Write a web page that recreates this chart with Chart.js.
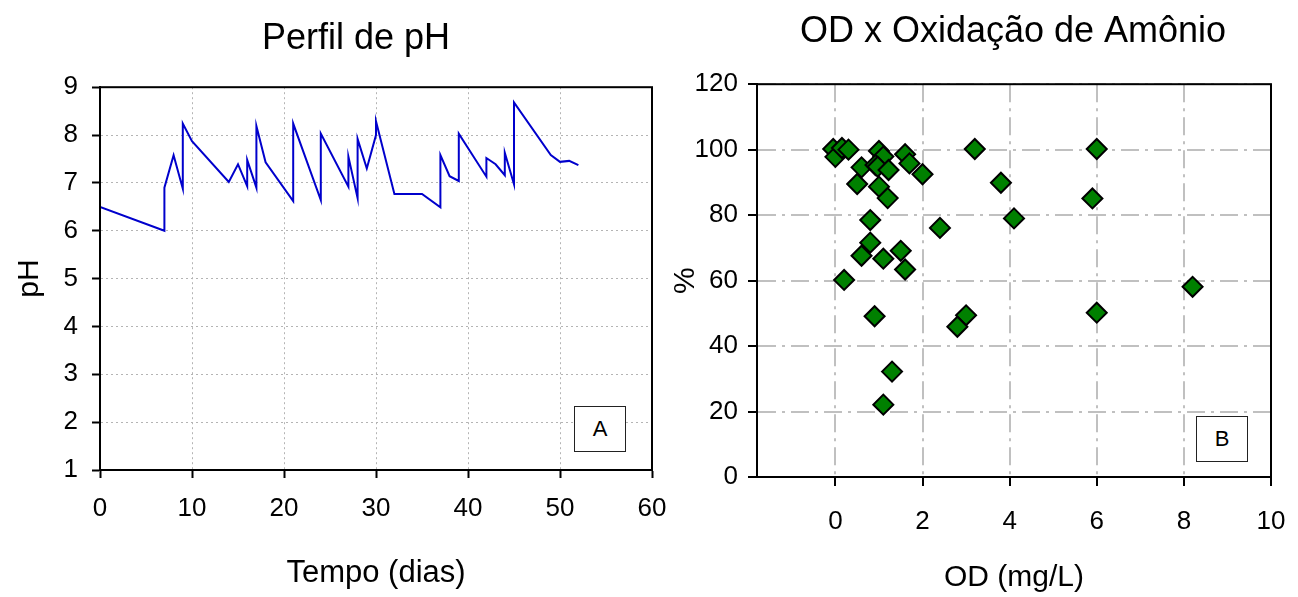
<!DOCTYPE html>
<html>
<head>
<meta charset="utf-8">
<script src="https://cdn.jsdelivr.net/npm/chart.js@4.4.1/dist/chart.umd.min.js"></script>
<style>
  html, body { margin: 0; padding: 0; background: #fff; overflow: hidden; width: 1298px; height: 597px; }
  .wrap { position: absolute; top: 0; height: 597px; }
  .tag { position: absolute; width: 52px; height: 46px; border: 1.5px solid #222; box-sizing: border-box;
         font: 22px 'Liberation Sans', Arial, sans-serif; display: flex; align-items: center; justify-content: center; background: #fff; }
</style>
</head>
<body>
<div class="wrap" style="left:0;width:712px"><canvas id="ph"></canvas></div>
<div class="wrap" style="left:640px;width:746px"><canvas id="od"></canvas></div>
<div class="tag" style="left:574px;top:406px">A</div>
<div class="tag" style="left:1196px;top:416px">B</div>
<script>
Chart.defaults.font.family = "'Liberation Sans', Arial, sans-serif"
Chart.defaults.color = '#000'

// Perfil de pH
const tempo = [0, 7, 7, 8, 9, 9, 10, 14, 15, 16, 16, 17, 17, 18, 21, 21, 24, 24, 27, 27,
  28, 28, 29, 30, 30, 32, 35, 37, 37, 38, 39, 39, 42, 42, 43, 44, 44, 45, 45, 49, 50, 51, 52]
const ph = [6.5, 6.0, 6.9, 7.58, 6.88, 8.24, 7.87, 7.02, 7.39, 6.93, 7.48, 6.9, 8.19, 7.43, 6.62, 8.24, 6.64, 8.03, 6.92, 7.55,
  6.68, 7.92, 7.3, 8.0, 8.29, 6.77, 6.77, 6.49, 7.58, 7.14, 7.04, 8.03, 7.13, 7.52, 7.39, 7.16, 7.63, 6.97, 8.68, 7.58, 7.44, 7.46, 7.37]

// OD x Oxidação de Amônio
const od = [-0.05, 0.0, 0.15, 0.3, 0.6, 0.5, 1.0, 1.1, 0.92, 0.97, 1.22, 1.0, 1.2, 1.6, 1.7, 2.0, 3.2, 3.8,
  6.0, 5.9, 4.1, 0.8, 2.4, 0.8, 0.6, 1.5, 1.1, 1.6, 0.2, 8.2, 0.9, 3.0, 2.8, 6.0, 1.3, 1.1]
const oxidacao = [100.2, 97.8, 100.5, 100, 94.6, 89.5, 99.6, 97.9, 95.3, 94.8, 93.8, 88.7, 85.2, 98.6, 95.8, 92.5, 100.2, 89.9,
  100.2, 85.1, 79, 78.5, 76.1, 71.6, 67.6, 69.1, 66.7, 63.4, 60.2, 58.1, 49.1, 49.4, 45.9, 50.2, 32.2, 22.1]
const odTicks = [0, 2, 4, 6, 8, 10]

// caixa fechada em volta da area de plotagem
const frame = {
  id: 'frame',
  afterDraw(chart) {
    const {ctx, chartArea: a} = chart
    ctx.save()
    ctx.strokeStyle = '#000'
    ctx.lineWidth = 2
    ctx.strokeRect(a.left, a.top, a.right - a.left, a.bottom - a.top)
    ctx.restore()
  }
}

// eixo vazio a direita, so para reservar espaco sem deslocar o titulo
const spacer = w => ({
  position: 'right', display: true,
  grid: {display: false}, border: {display: false}, ticks: {display: false},
  afterFit: s => { s.width = w }
})

new Chart(document.getElementById('ph'), {
  type: 'scatter',
  data: {
    datasets: [{
      data: tempo.map((t, i) => ({x: t, y: ph[i]})),
      showLine: true,
      borderColor: '#0000cc',
      borderWidth: 2,
      pointRadius: 0,
      tension: 0
    }]
  },
  options: {
    responsive: true,
    maintainAspectRatio: false,
    animation: false,
    layout: {padding: 0},
    plugins: {
      legend: {display: false},
      tooltip: {enabled: false},
      title: {display: true, text: 'Perfil de pH', font: {size: 36, weight: 'normal'}, color: '#000', padding: {top: 17, bottom: 27}}
    },
    scales: {
      x: {
        type: 'linear', min: 0, max: 60,
        ticks: {stepSize: 10, font: {size: 26}, padding: 15, maxRotation: 0},
        grid: {color: '#b4b4b4', lineWidth: 1, tickColor: '#000', tickWidth: 2, tickLength: 8},
        border: {color: '#000', width: 2, dash: [2, 3]},
        title: {display: true, text: 'Tempo (dias)', font: {size: 31}, padding: {top: 0, bottom: 5}},
        afterFit: s => { s.height = 127 }
      },
      y: {
        min: 1, max: 9,
        ticks: {stepSize: 1, font: {size: 26}, padding: 14},
        grid: {color: '#b4b4b4', lineWidth: 1, tickColor: '#000', tickWidth: 2, tickLength: 8},
        border: {color: '#000', width: 2, dash: [2, 3]},
        title: {display: true, text: 'pH', font: {size: 30}, padding: {top: 12, bottom: 0}},
        afterFit: s => { s.width = 100 }
      },
      pad: spacer(60)
    }
  },
  plugins: [frame]
})

new Chart(document.getElementById('od'), {
  type: 'scatter',
  data: {
    datasets: [{
      data: od.map((v, i) => ({x: v, y: oxidacao[i]})),
      pointStyle: 'rectRot',
      pointRadius: 10,
      backgroundColor: '#008000',
      borderColor: '#000',
      borderWidth: 2
    }]
  },
  options: {
    responsive: true,
    maintainAspectRatio: false,
    animation: false,
    layout: {padding: 0},
    plugins: {
      legend: {display: false},
      tooltip: {enabled: false},
      title: {display: true, text: 'OD x Oxidação de Amônio', font: {size: 36, weight: 'normal'}, color: '#000', padding: {top: 10, bottom: 31}}
    },
    scales: {
      x: {
        type: 'linear', min: -1.8, max: 10,
        afterBuildTicks: s => { s.ticks = odTicks.map(v => ({value: v})) },
        ticks: {font: {size: 26}, padding: 20, maxRotation: 0},
        grid: {color: '#c0c0c0', lineWidth: 2, tickColor: '#000', tickWidth: 2, tickLength: 9},
        border: {color: '#000', width: 2, dash: [18, 6, 3, 6]},
        title: {display: true, text: 'OD (mg/L)', font: {size: 30}, padding: {top: 0, bottom: 1}},
        afterFit: s => { s.height = 120 }
      },
      y: {
        min: 0, max: 120,
        ticks: {stepSize: 20, font: {size: 26}, padding: 10},
        grid: {color: '#c0c0c0', lineWidth: 2, tickColor: '#000', tickWidth: 2, tickLength: 9},
        border: {color: '#000', width: 2, dash: [18, 6, 3, 6]},
        title: {display: true, text: '%', font: {size: 30}, padding: {top: 28, bottom: 0}},
        afterFit: s => { s.width = 117 }
      },
      pad: spacer(115)
    }
  },
  plugins: [frame]
})
</script>
</body>
</html>
